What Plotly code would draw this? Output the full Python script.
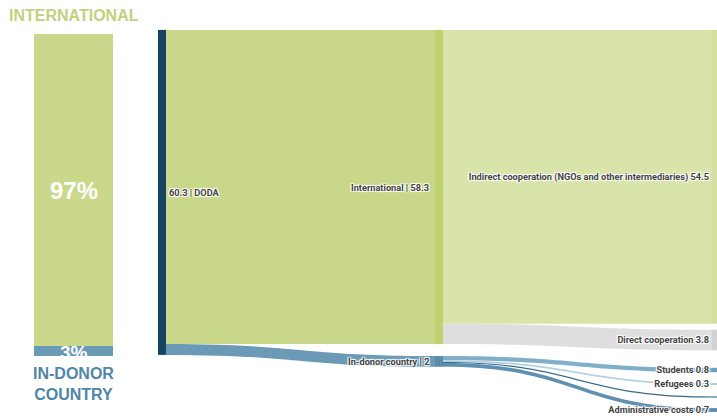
import plotly.graph_objects as go

# ---- data ----
share_labels = ["IN-DONOR COUNTRY", "INTERNATIONAL"]
share_values = [3, 97]

node_labels = [
    "60.3 | DODA",
    "International | 58.3",
    "In-donor country | 2",
    "Indirect cooperation (NGOs and other intermediaries) 54.5",
    "Direct cooperation 3.8",
    "Students 0.8",
    "Refugees 0.3",
    "",
    "Administrative costs 0.7",
]
link_source = [0, 0, 1, 1, 2, 2, 2, 2]
link_target = [1, 2, 3, 4, 5, 6, 7, 8]
link_value = [58.3, 2, 54.5, 3.8, 0.8, 0.3, 0.2, 0.7]

# ---- styling ----
W, H = 717, 416
GREEN = "#c9d88a"
BLUE = "#6b9ab5"
LABEL_FONT = dict(family="Liberation Sans Narrow, Roboto", size=9.2,
                  color="#444", weight="bold")
HALO = "1px 1px 1px #fff, -1px -1px 1px #fff, 1px -1px 1px #fff, -1px 1px 1px #fff"

node_colors = ["#17445f", "#c0d16f", "#5b8cab", "#d3e0a0", "#d2d2d2",
               "#6e9fbd", "#9fc3d6", "#2f5f82", "#5a8db0"]
link_colors = ["#c9d78a", "#6a9ab5", "#d9e4ab", "#dedede",
               "#7fafc9", "#b3d0df", "#3a6788", "#5f90b1"]

# sankey domain in pixels
sx0, sx1 = 158, 710
sy0, sy1 = 30, 412
sw, sh = sx1 - sx0, sy1 - sy0
node_cx = [162, 439, 439, 716, 716, 716, 716, 716, 716]
node_cy = [192.4, 187, 361.4, 176.8, 340, 370, 384, 397, 410]
nx = [(c - sx0) / sw for c in node_cx]
ny = [(c - sy0) / sh for c in node_cy]
nx = [max(v, 0.001) for v in nx]

# middle-column labels are drawn left of their nodes (as annotations)
middle = [1, 2]
shown_labels = ["" if i in middle else lab for i, lab in enumerate(node_labels)]

fig = go.Figure()

fig.add_trace(go.Sankey(
    domain=dict(x=[sx0 / W, sx1 / W], y=[1 - sy1 / H, 1 - sy0 / H]),
    arrangement="fixed",
    node=dict(
        label=shown_labels,
        color=node_colors,
        x=nx, y=ny,
        pad=11.4,
        thickness=8,
        line=dict(width=0),
    ),
    link=dict(source=link_source, target=link_target, value=link_value,
              color=link_colors),
    textfont=LABEL_FONT,
))

for i in middle:
    fig.add_annotation(x=(node_cx[i] - 8.5) / W, y=1 - (node_cy[i] + 0.5) / H,
                       xref="paper", yref="paper", xanchor="right", yanchor="middle",
                       text=node_labels[i], showarrow=False,
                       font=dict(**LABEL_FONT, shadow=HALO))

bar_colors = [BLUE, GREEN]
for lab, val, col in zip(share_labels, share_values, bar_colors):
    fig.add_trace(go.Bar(x=["share"], y=[val], marker=dict(color=col, line=dict(width=0)),
                         width=1, xaxis="x", yaxis="y", showlegend=False,
                         hoverinfo="skip"))

bx0, bx1, by0, by1 = 34, 113, 34, 356
fig.update_layout(
    width=W, height=H,
    barmode="stack",
    margin=dict(l=0, r=0, t=0, b=0),
    paper_bgcolor="white", plot_bgcolor="white",
    xaxis=dict(domain=[bx0 / W, bx1 / W], range=[-0.5, 0.5], visible=False,
               fixedrange=True),
    yaxis=dict(domain=[1 - by1 / H, 1 - by0 / H], range=[0, 100], visible=False,
               fixedrange=True),
    showlegend=False,
)

# percentage labels inside the bar
cum = 0
pct_sizes = [19, 24]
pct_y = []
for val in share_values:
    pct_y.append(cum + val / 2)
    cum += val
for val, yy, sz in zip(share_values, pct_y, pct_sizes):
    fig.add_annotation(x=0, y=yy, xref="x", yref="y", text=f"<b>{val}%</b>",
                       showarrow=False,
                       font=dict(family="Liberation Sans, Arial", size=sz, color="white"),
                       yshift=(-1 if val < 50 else 0))

fig.add_annotation(x=7 / W, y=1 - 16 / H, xref="paper", yref="paper",
                   xanchor="left", yanchor="middle",
                   text=f"<b>{share_labels[1]}</b>", showarrow=False,
                   font=dict(family="Liberation Sans, Arial", size=16, color="#bfd27c"))
fig.add_annotation(x=73.5 / W, y=1 - 384 / H, xref="paper", yref="paper",
                   xanchor="center", yanchor="middle",
                   text="<b>IN-DONOR<br>COUNTRY</b>", showarrow=False,
                   font=dict(family="Liberation Sans, Arial", size=16, color="#4f86a6"))

fig.write_html("out.html", config={"displayModeBar": False},
               post_script="document.body.style.margin='0px';")
